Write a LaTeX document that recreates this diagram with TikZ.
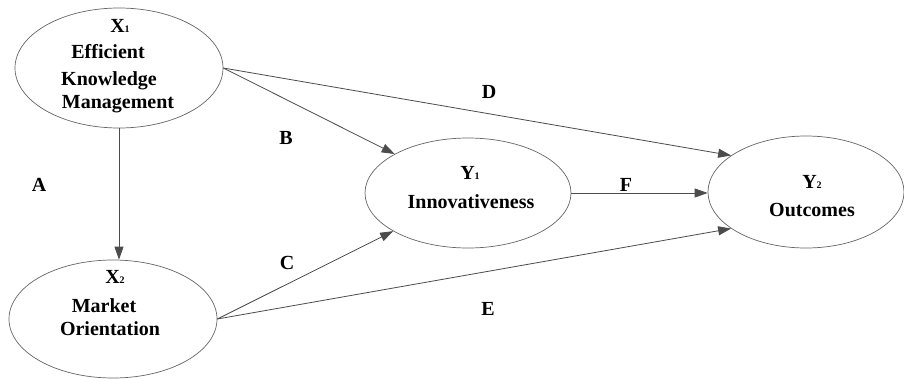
\documentclass[tikz,border=0pt]{standalone}
\usepackage{fontspec}
\setmainfont{Liberation Serif}
\usetikzlibrary{shapes.geometric,arrows.meta}
\tikzset{
  latent/.style={ellipse, draw=black!60, line width=0.7pt, inner sep=0pt},
  lbl/.style={anchor=base, inner sep=0pt, font=\fontsize{20}{20}\selectfont\bfseries},
  path/.style={draw=black!70, line width=0.8pt, -{Triangle[length=13pt,width=9pt]}},
  plain/.style={draw=black!70, line width=0.8pt}
}
\newcommand{\sbs}[1]{{\fontsize{10}{10}\selectfont #1}}
\begin{document}
\begin{tikzpicture}[x=1pt,y=-1pt]
\useasboundingbox[fill=white] (0,0) rectangle (904,378);
% ellipses
\node[latent, minimum width=208pt, minimum height=120pt] (x1) at (119,68) {};
\node[latent, minimum width=208pt, minimum height=118pt] (x2) at (113,319) {};
\node[latent, minimum width=206pt, minimum height=110pt] (y1) at (468,193) {};
\node[latent, minimum width=196pt, minimum height=112pt] (y2) at (806,192) {};
% texts
\node[lbl] (tx1) at (120,32) {X\sbs{1}};
\node[lbl] (tx1a) at (108,58) {Efficient};
\node[lbl] (tx1b) at (109,85) {Knowledge};
\node[lbl] (tx1c) at (118,108) {Management};
\node[lbl] (tx2) at (115,283) {X\sbs{2}};
\node[lbl] (tx2a) at (104,312) {Market};
\node[lbl] (tx2b) at (110,335) {Orientation};
\node[lbl] (ty1) at (470,179) {Y\sbs{1}};
\node[lbl] (ty1a) at (471,208) {Innovativeness};
\node[lbl] (ty2) at (812,188) {Y\sbs{2}};
\node[lbl] (ty2a) at (812,216) {Outcomes};
% path labels
\node[lbl] (la) at (39,191) {A};
\node[lbl] (lb) at (286,144) {B};
\node[lbl] (lc) at (287,269) {C};
\node[lbl] (ld) at (489,98) {D};
\node[lbl] (le) at (488,315) {E};
\node[lbl] (lf) at (626,191) {F};
% connectors
\draw[path] (x1.south) -- (x1.south |- x2.north);
\draw[path] (x1.east) -- (y1.152);
\draw[path] (x1.east) -- (y2.154);
\draw[path] (x2.east) -- (y1.207);
\draw[path] (x2.east) -- (y2.206);
\draw[path] (y1.east) -- (y1.east -| y2.west);
\end{tikzpicture}
\end{document}
